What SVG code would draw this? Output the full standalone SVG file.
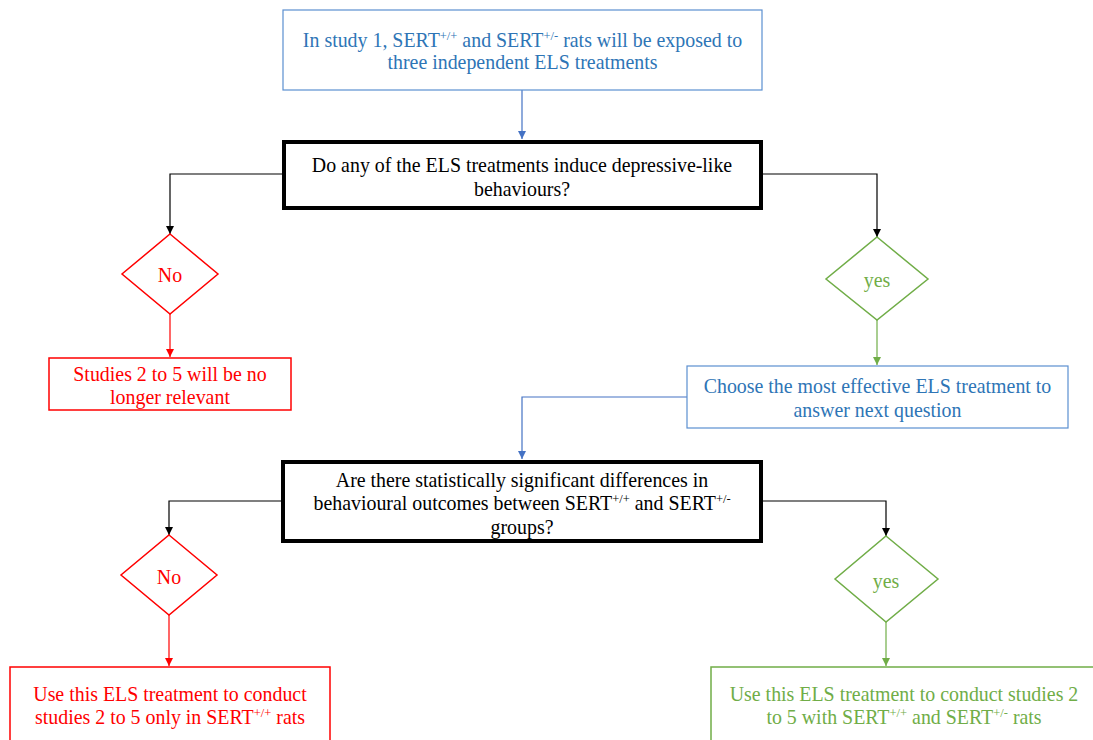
<svg xmlns="http://www.w3.org/2000/svg" width="1093" height="740" viewBox="0 0 1093 740">
  <style>
    text { font-family: "Liberation Serif", "Times New Roman", serif; font-size: 19.9px; text-anchor: middle; }
    .sup { font-size: 12.5px; }
    .blue-t { fill: #2e75b6; }
    .black-t { fill: #000000; }
    .red-t { fill: #ff0000; }
    .green-t { fill: #70ad47; }
    .box-blue { fill: #ffffff; stroke: #5b8fd0; stroke-width: 1.2; }
    .box-q { fill: #ffffff; stroke: #000000; stroke-width: 4; }
    .box-red { fill: #ffffff; stroke: #ff0000; stroke-width: 1.5; }
    .box-green { fill: #ffffff; stroke: #70ad47; stroke-width: 1.5; }
    .link { fill: none; stroke-width: 1.2; }
    .k { stroke: #000000; marker-end: url(#ah-black); }
    .b { stroke: #4472c4; marker-end: url(#ah-blue); }
    .r { stroke: #ff0000; marker-end: url(#ah-red); }
    .g { stroke: #70ad47; marker-end: url(#ah-green); }
  </style>
  <defs>
    <marker id="ah-black" viewBox="0 0 10 10" refX="10" refY="5" markerWidth="8" markerHeight="8" markerUnits="userSpaceOnUse" orient="auto"><path d="M0,0 L10,5 L0,10 z" fill="#000000"/></marker>
    <marker id="ah-blue" viewBox="0 0 10 10" refX="10" refY="5" markerWidth="8" markerHeight="8" markerUnits="userSpaceOnUse" orient="auto"><path d="M0,0 L10,5 L0,10 z" fill="#4472c4"/></marker>
    <marker id="ah-red" viewBox="0 0 10 10" refX="10" refY="5" markerWidth="8" markerHeight="8" markerUnits="userSpaceOnUse" orient="auto"><path d="M0,0 L10,5 L0,10 z" fill="#ff0000"/></marker>
    <marker id="ah-green" viewBox="0 0 10 10" refX="10" refY="5" markerWidth="8" markerHeight="8" markerUnits="userSpaceOnUse" orient="auto"><path d="M0,0 L10,5 L0,10 z" fill="#70ad47"/></marker>
  </defs>
  <rect width="1093" height="740" fill="#ffffff"/>

  <g id="connectors">
    <path class="link b" d="M522,90 V139"/>
    <path class="link k" d="M283,174 H170 V234"/>
    <path class="link k" d="M762,174 H877 V237"/>
    <path class="link r" d="M170,314 V357"/>
    <path class="link g" d="M877,320 V365"/>
    <path class="link b" d="M687,397 H522 V459"/>
    <path class="link k" d="M282,501 H169 V535"/>
    <path class="link k" d="M762,501 H886 V536"/>
    <path class="link r" d="M169,615 V666"/>
    <path class="link g" d="M886,622 V666"/>
  </g>

  <g id="start">
    <rect class="box-blue" x="283" y="10" width="479" height="80"/>
    <text class="blue-t" x="522.5" y="47">In study 1, SERT<tspan class="sup" dy="-7">+/+</tspan><tspan dy="7"> and SERT</tspan><tspan class="sup" dy="-7">+/-</tspan><tspan dy="7"> rats will be exposed to</tspan></text>
    <text class="blue-t" x="522.5" y="69">three independent ELS treatments</text>
  </g>

  <g id="question1">
    <rect class="box-q" x="284" y="142" width="477" height="66"/>
    <text class="black-t" x="522" y="172">Do any of the ELS treatments induce depressive-like</text>
    <text class="black-t" x="522" y="196">behaviours?</text>
  </g>

  <g id="no1">
    <polygon class="box-red" points="170,234 218,274 170,314 122,274"/>
    <text class="red-t" x="170" y="282">No</text>
  </g>

  <g id="end-irrelevant">
    <rect class="box-red" x="49" y="358" width="242" height="52"/>
    <text class="red-t" x="170" y="381">Studies 2 to 5 will be no</text>
    <text class="red-t" x="170" y="404">longer relevant</text>
  </g>

  <g id="yes1">
    <polygon class="box-green" points="877,237 928,279 877,320 826,279"/>
    <text class="green-t" x="877" y="287">yes</text>
  </g>

  <g id="choose">
    <rect class="box-blue" x="687" y="366" width="381" height="62"/>
    <text class="blue-t" x="877.5" y="393">Choose the most effective ELS treatment to</text>
    <text class="blue-t" x="877.5" y="417">answer next question</text>
  </g>

  <g id="question2">
    <rect class="box-q" x="283" y="462" width="478" height="79"/>
    <text class="black-t" x="522" y="487">Are there statistically significant differences in</text>
    <text class="black-t" x="522" y="510">behavioural outcomes between SERT<tspan class="sup" dy="-7">+/+</tspan><tspan dy="7"> and SERT</tspan><tspan class="sup" dy="-7">+/-</tspan></text>
    <text class="black-t" x="522" y="534">groups?</text>
  </g>

  <g id="no2">
    <polygon class="box-red" points="169,535 217,575 169,615 121,575"/>
    <text class="red-t" x="169" y="584">No</text>
  </g>

  <g id="end-wildtype">
    <rect class="box-red" x="10" y="667" width="320" height="80"/>
    <text class="red-t" x="170" y="701">Use this ELS treatment to conduct</text>
    <text class="red-t" x="170" y="724">studies 2 to 5 only in SERT<tspan class="sup" dy="-7">+/+</tspan><tspan dy="7"> rats</tspan></text>
  </g>

  <g id="yes2">
    <polygon class="box-green" points="886,536 938,579 886,622 835,579"/>
    <text class="green-t" x="886" y="588">yes</text>
  </g>

  <g id="end-both">
    <rect class="box-green" x="711" y="667" width="390" height="80"/>
    <text class="green-t" x="904" y="701">Use this ELS treatment to conduct studies 2</text>
    <text class="green-t" x="904" y="724">to 5 with SERT<tspan class="sup" dy="-7">+/+</tspan><tspan dy="7"> and SERT</tspan><tspan class="sup" dy="-7">+/-</tspan><tspan dy="7"> rats</tspan></text>
  </g>
</svg>
